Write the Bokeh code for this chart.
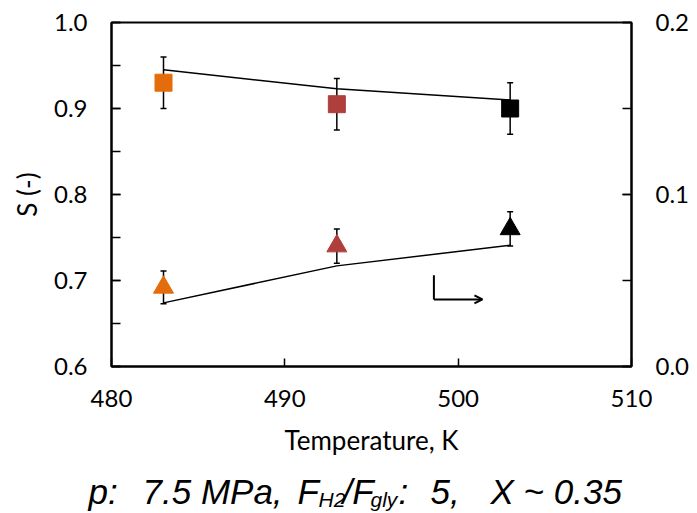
from bokeh.plotting import figure
from bokeh.layouts import column
from bokeh.models import (Range1d, LinearAxis, SingleIntervalTicker, PrintfTickFormatter,
                          Arrow, OpenHead, ColumnDataSource)
from bokeh.core.properties import value
from bokeh.embed import file_html
from bokeh.resources import INLINE

# ---- data ----
temps = [483, 493, 503]
s_vals = [0.930, 0.905, 0.900]          # left axis, squares
s_err = [0.030, 0.030, 0.030]
s_model = [0.945, 0.923, 0.910]
r_vals = [0.046, 0.070, 0.080]          # right axis, triangles
r_err = [0.0095, 0.0100, 0.0100]
r_model = [0.037, 0.0585, 0.0705]
colors = ["#E46C0A", "#AE3F3C", "#000000"]

FONT = "Lato"
SUBFONT = "Liberation Sans"

p = figure(width=697, height=460, output_backend="svg", toolbar_location=None,
           x_range=Range1d(480, 510), y_range=Range1d(0.6, 1.0),
           min_border_left=111, min_border_right=66, min_border_top=22, min_border_bottom=94)
p.frame_align = False
p.extra_y_ranges = {"right": Range1d(0.0, 0.2)}
p.xgrid.visible = False
p.ygrid.visible = False
p.outline_line_color = "black"
p.outline_line_width = 2
p.outline_line_alpha = 1.0
p.background_fill_color = "white"
p.border_fill_color = "white"

# x axis
xa = p.xaxis[0]
xa.ticker = SingleIntervalTicker(interval=10, num_minor_ticks=0)
xa.axis_label = "Temperature, K"
# y axis left
ya = p.yaxis[0]
ya.ticker = SingleIntervalTicker(interval=0.1, num_minor_ticks=2)
ya.formatter = PrintfTickFormatter(format="%.1f")
ya.axis_label = "S (-)"
# y axis right
ra = LinearAxis(y_range_name="right",
                ticker=SingleIntervalTicker(interval=0.1, num_minor_ticks=2),
                formatter=PrintfTickFormatter(format="%.1f"))
p.add_layout(ra, "right")

for ax in [xa, ya, ra]:
    ax.axis_line_color = "black"
    ax.axis_line_width = 2
    ax.major_tick_line_color = "black"
    ax.major_tick_line_width = 1.5
    ax.minor_tick_line_color = "black"
    ax.minor_tick_line_width = 1.5
    ax.major_tick_in = 9
    ax.major_tick_out = 0
    ax.minor_tick_in = 9
    ax.minor_tick_out = 0
    ax.major_label_text_font = FONT
    ax.major_label_text_font_size = "24px"
    ax.major_label_text_color = "black"
    ax.major_label_standoff = 24
    ax.axis_label_text_font = FONT
    ax.axis_label_text_font_size = "26px"
    ax.axis_label_text_font_style = "normal"
    ax.axis_label_text_color = "black"
xa.major_tick_in = 8
xa.major_label_standoff = 23
xa.axis_label_standoff = 14
ya.axis_label_standoff = 8

# ---- model lines ----
p.line(temps, s_model, line_color="black", line_width=1.5)
p.line(temps, r_model, line_color="black", line_width=1.5, y_range_name="right")

# ---- error bars ----
s_lo = [v - e for v, e in zip(s_vals, s_err)]
s_hi = [v + e for v, e in zip(s_vals, s_err)]
r_lo = [v - e for v, e in zip(r_vals, r_err)]
r_hi = [v + e for v, e in zip(r_vals, r_err)]
p.segment(temps, s_lo, temps, s_hi, line_color="black", line_width=1.5)
p.scatter(temps + temps, s_lo + s_hi, marker="dash", size=6, line_color="black", line_width=1.5)
p.segment(temps, r_lo, temps, r_hi, line_color="black", line_width=1.5, y_range_name="right")
p.scatter(temps + temps, r_lo + r_hi, marker="dash", size=6, line_color="black", line_width=1.5,
          y_range_name="right")

# ---- markers ----
src_s = ColumnDataSource(dict(x=temps, y=s_vals, c=colors))
src_r = ColumnDataSource(dict(x=temps, y=r_vals, c=colors))
p.scatter("x", "y", source=src_s, marker="square", size=17, fill_color="c", line_color="c")
p.scatter("x", "y", source=src_r, marker="triangle", size=20, fill_color="c", line_color="c",
          y_range_name="right")

# ---- arrow indicating right axis ----
p.segment([498.6], [0.706], [498.6], [0.678], line_color="black", line_width=2)
p.add_layout(Arrow(end=OpenHead(size=8, line_width=2, line_color="black"),
                   x_start=498.6, y_start=0.678, x_end=501.4, y_end=0.678,
                   line_color="black", line_width=2))

# ---- subtitle strip (with subscripts), coordinates in strip pixels ----
main_txt = ["p:", "7.5 MPa,", "F", "/F", ":", "5,", "X ~ 0.35"]
main_x = [88, 142, 297, 342, 398, 430, 490]
sub_txt = ["H2", "gly"]
sub_x = [318, 370]

s = figure(width=697, height=53, output_backend="svg", toolbar_location=None,
           x_range=Range1d(0, 697), y_range=Range1d(53, 0),
           x_axis_type=None, y_axis_type=None,
           min_border=0, min_border_left=0, min_border_right=0,
           min_border_top=0, min_border_bottom=0)
s.frame_align = False
s.outline_line_color = None
s.xgrid.visible = False
s.ygrid.visible = False
s.background_fill_color = "white"
s.border_fill_color = "white"
s.text(x=main_x, y=[31] * len(main_x), text=main_txt, text_font=value(SUBFONT),
       text_font_style="italic", text_font_size="35px", text_baseline="alphabetic",
       text_align="left", text_color="black")
s.text(x=sub_x, y=[39] * len(sub_x), text=sub_txt, text_font=value(SUBFONT),
       text_font_style="italic", text_font_size="21px", text_baseline="alphabetic",
       text_align="left", text_color="black")

layout = column(p, s, spacing=0)
open("out.html", "w").write(file_html(layout, INLINE))
